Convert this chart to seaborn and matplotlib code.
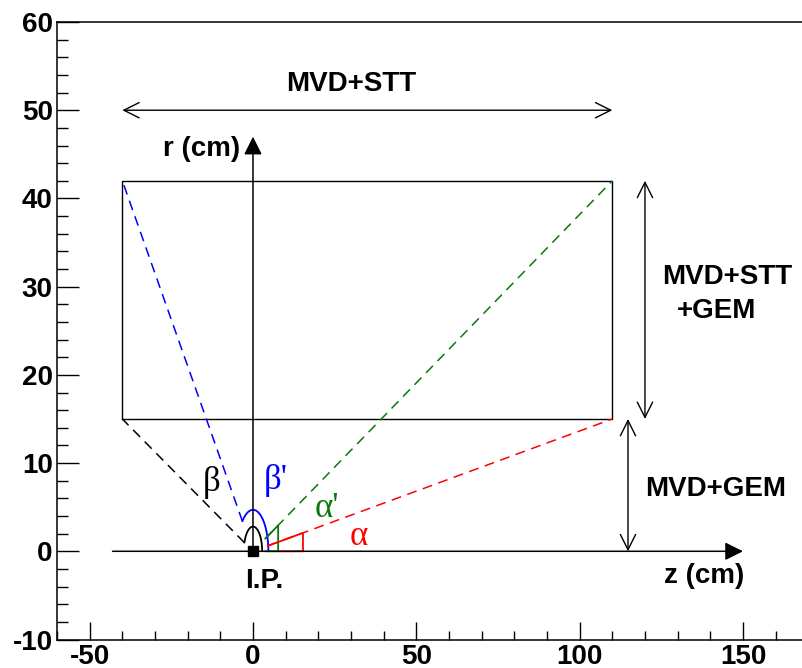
import numpy as np
import pandas as pd
import matplotlib
matplotlib.use("Agg")
import matplotlib.pyplot as plt
import seaborn as sns

# ---------------- data (cm) ----------------
rect_z = [-40, 110]                 # STT box, z extent
rect_r = [15, 42]                   # STT box, r extent
corner_z = [-40, -40, 110, 110]     # ray end points: black, blue, green, red
corner_r = [15, 42, 42, 15]
ray_names = ["beta", "beta_prime", "alpha_prime", "alpha"]
ray_inner = [2.8, 4.7, 4.0, 4.6]    # where the dashed rays stop near the I.P.
arc_radius = {"beta": 2.8, "beta_prime": 4.7}
marker_z = {"alpha_prime": 7.7, "alpha": 15.3}
x_major = [-50, 0, 50, 100, 150]
y_major = [-10, 0, 10, 20, 30, 40, 50, 60]
labels_text = ["MVD+STT", "MVD+STT", "+GEM", "MVD+GEM", "r (cm)", "z (cm)", "I.P."]
labels_z = [30, 145.2, 142, 141.7, -15.6, 138, 3.3]
labels_r = [53, 31.1, 27.2, 7.1, 45.6, -2.8, -3.4]
greek_text = ["\u03b2", "\u03b2'", "\u03b1'", "\u03b1"]
greek_z = [-12.7, 7.0, 22.6, 32.5]
greek_r = [7.8, 8.0, 4.9, 1.7]

sns.set_theme(style="ticks")
plt.rcParams["font.family"] = ["Liberation Sans", "DejaVu Sans"]
plt.rcParams["axes.unicode_minus"] = False

colors = {"beta": "black", "beta_prime": "#0000ff",
          "alpha_prime": "#0a780a", "alpha": "#ff0000"}

fig = plt.figure(figsize=(8.03, 6.68), dpi=100)
W, H = 803, 668
left_px, right_px, top_px, bot_px = 57.0, 808.3, 22.0, 639.5
ax = fig.add_axes([left_px / W, (H - bot_px) / H,
                   (right_px - left_px) / W, (bot_px - top_px) / H])

lw = 1.0
# STT rectangle
ax.plot([rect_z[0], rect_z[1], rect_z[1], rect_z[0], rect_z[0]],
        [rect_r[0], rect_r[0], rect_r[1], rect_r[1], rect_r[0]],
        color="black", lw=lw)

# coordinate axes with filled heads
filled = dict(arrowstyle="-|>,head_length=1.1,head_width=0.55", mutation_scale=10,
              lw=1.1, color="black", shrinkA=0, shrinkB=0)
ax.annotate("", xy=(150, 0), xytext=(-43, 0), arrowprops=filled)
ax.annotate("", xy=(0, 47), xytext=(0, 0), arrowprops=filled)

# double arrows with open heads
opened = dict(arrowstyle="<->,head_length=1.1,head_width=0.55", mutation_scale=10,
              lw=1.0, color="black", shrinkA=0, shrinkB=0)
ax.annotate("", xy=(110, 50), xytext=(-40, 50), arrowprops=opened)
ax.annotate("", xy=(120, 42), xytext=(120, 15), arrowprops=opened)
ax.annotate("", xy=(114.8, 15), xytext=(114.8, 0), arrowprops=opened)

# dashed rays
for name, cz, cr, r0 in zip(ray_names, corner_z, corner_r, ray_inner):
    ang = np.arctan2(cr, cz)
    df = pd.DataFrame({"z": [r0 * np.cos(ang), cz], "r": [r0 * np.sin(ang), cr]})
    sns.lineplot(data=df, x="z", y="r", ax=ax, sort=False, color=colors[name],
                 lw=1.1, dashes=False, linestyle=(0, (6.5, 4.3)))

# arcs for beta, beta'
for name, cz, cr in zip(ray_names, corner_z, corner_r):
    if name in arc_radius:
        R = arc_radius[name]
        t = np.linspace(0, np.arctan2(cr, cz), 100)
        ax.plot(R * np.cos(t), R * np.sin(t), color=colors[name], lw=1.3)

# right-triangle markers for alpha, alpha'
for name, cz, cr, r0 in zip(ray_names, corner_z, corner_r, ray_inner):
    if name in marker_z:
        zt = marker_z[name]
        slope = cr / cz
        z0 = r0 * np.cos(np.arctan2(cr, cz))
        ax.plot([z0, zt, zt, z0 if name == "alpha_prime" else marker_z["alpha_prime"]],
                [z0 * slope, zt * slope, 0, 0], color=colors[name], lw=1.3)

# I.P. marker
ax.plot([0], [0], marker="s", ms=6.5, color="black", ls="none")

# labels
for t, z, r in zip(labels_text, labels_z, labels_r):
    ax.text(z, r, t, ha="center", va="center", fontsize=20, fontweight="bold",
            color="black")
for t, z, r, name in zip(greek_text, greek_z, greek_r, ray_names):
    ax.text(z, r, t, ha="center", va="center", fontsize=25, color=colors[name],
            family=["Liberation Serif", "DejaVu Serif"])

# axes styling (after seaborn calls so nothing is overridden)
ax.set_xlim(-60, 170)
ax.set_ylim(-10, 60)
ax.set_facecolor("white")
for s in ["left", "bottom", "top"]:
    ax.spines[s].set_linewidth(1.1)
    ax.spines[s].set_color("black")
ax.spines["right"].set_visible(False)

ax.set_xticks(x_major)
ax.set_xticks(np.arange(-60, 171, 10), minor=True)
ax.set_yticks(y_major)
ax.set_yticks(np.arange(-10, 61, 2), minor=True)
ax.tick_params(axis="both", which="both", direction="in", width=1.0,
               colors="black", pad=3.0)
ax.tick_params(axis="y", which="major", length=15.8, labelsize=20)
ax.tick_params(axis="y", which="minor", length=7.7)
ax.tick_params(axis="x", which="major", length=12.7, labelsize=20)
ax.tick_params(axis="x", which="minor", length=6.7)
ax.tick_params(top=False, right=False)
for lab in ax.get_xticklabels() + ax.get_yticklabels():
    lab.set_fontweight("bold")
ax.set_xlabel("")
ax.set_ylabel("")

fig.savefig("out.png", dpi=100)
